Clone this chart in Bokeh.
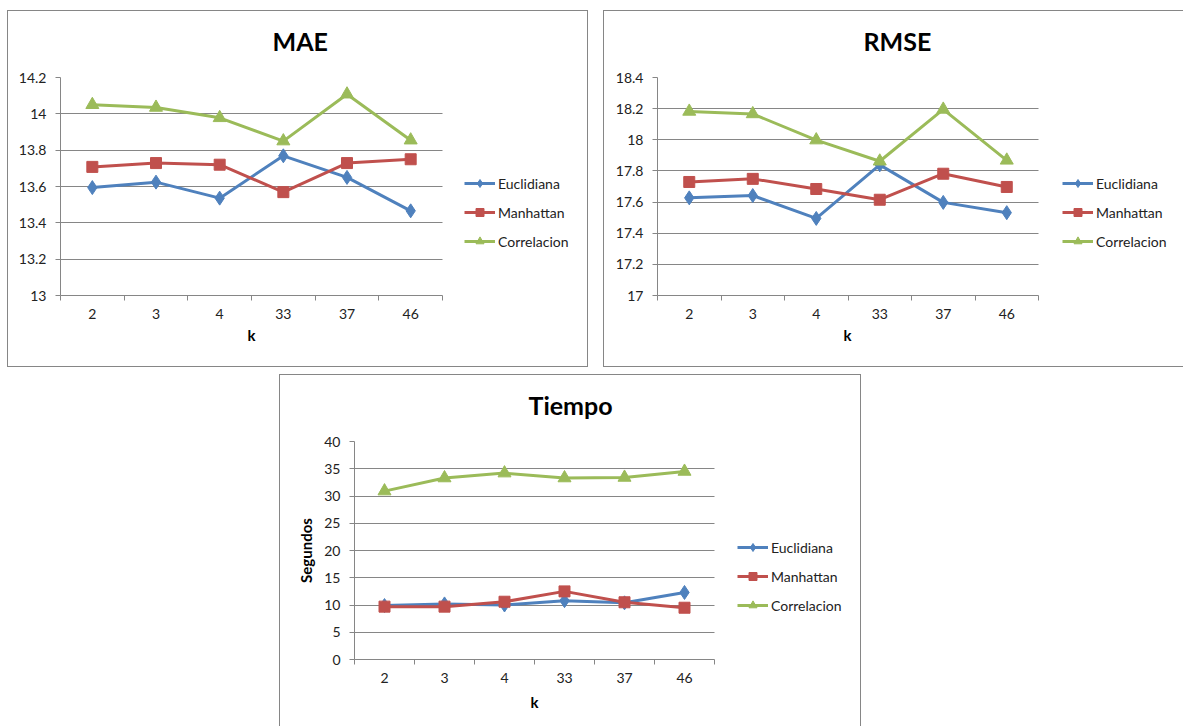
from bokeh.plotting import figure
from bokeh.models import (Range1d, FixedTicker, CustomJSTickFormatter, Legend,
                          LegendItem, Title, Spacer)
from bokeh.layouts import row, column
from bokeh.embed import file_html
from bokeh.resources import INLINE

# ---------------- data ----------------
k_values = ["2", "3", "4", "33", "37", "46"]
series_names = ["Euclidiana", "Manhattan", "Correlacion"]

mae_euclidiana = [13.594, 13.624, 13.536, 13.769, 13.650, 13.466]
mae_manhattan = [13.708, 13.729, 13.720, 13.569, 13.729, 13.750]
mae_correlacion = [14.050, 14.035, 13.978, 13.850, 14.108, 13.855]

rmse_euclidiana = [17.627, 17.642, 17.495, 17.839, 17.598, 17.532]
rmse_manhattan = [17.729, 17.749, 17.684, 17.615, 17.782, 17.697]
rmse_correlacion = [18.182, 18.166, 17.998, 17.862, 18.195, 17.868]

tiempo_euclidiana = [9.9, 10.2, 10.0, 10.8, 10.4, 12.3]
tiempo_manhattan = [9.7, 9.7, 10.6, 12.5, 10.5, 9.5]
tiempo_correlacion = [30.9, 33.3, 34.2, 33.3, 33.4, 34.5]

mae_ticks = [13.0, 13.2, 13.4, 13.6, 13.8, 14.0, 14.2]
rmse_ticks = [17.0, 17.2, 17.4, 17.6, 17.8, 18.0, 18.2, 18.4]
tiempo_ticks = [0, 5, 10, 15, 20, 25, 30, 35, 40]

# ---------------- style ----------------
FONT = "Lato"
COLORS = ["#4F81BD", "#C0504D", "#9BBB59"]
MARKERS = [("diamond", 14), ("square", 11), ("triangle", 13)]
GREY = "#868686"
TEXT = "#222222"


def make_chart(title_text, series, yticks, width, height, left, top, bottom,
               cat_px, title_left, k_left, k_standoff, legend_x, box_style, ylabel=None):
    right = 2
    n = len(k_values)
    x_end = 0.5 + (width - left - right) / cat_px
    p = figure(width=width, height=height, output_backend="svg", toolbar_location=None,
               x_range=Range1d(0.5, x_end),
               y_range=Range1d(yticks[0], yticks[-1]),
               min_border_left=left, min_border_right=right,
               min_border_top=top, min_border_bottom=bottom)
    p.outline_line_color = None
    p.background_fill_color = "white"
    p.border_fill_color = "white"
    p.styles = box_style

    # gap between frame and chart title, then the title itself
    p.add_layout(Title(text=" ", text_font_size="1px", standoff=19), "above")
    p.add_layout(Title(text=title_text, align="left", offset=title_left, standoff=0,
                       text_font=FONT, text_font_size="25px", text_font_style="bold",
                       text_color="black"), "above")

    xs = [i + 1 for i in range(n)]

    # x axis
    xax = p.xaxis[0]
    xax.bounds = (0.5, n + 0.5)
    xax.ticker = FixedTicker(ticks=xs, minor_ticks=[i + 0.5 for i in range(n + 1)])
    xax.major_label_overrides = {x: lab for x, lab in zip(xs, k_values)}
    xax.major_tick_line_color = None
    xax.major_tick_out = 0
    xax.major_tick_in = 0
    xax.minor_tick_line_color = GREY
    xax.minor_tick_out = 5
    xax.minor_tick_in = 0
    xax.axis_line_color = GREY
    xax.major_label_standoff = 8
    xax.major_label_text_font = FONT
    xax.major_label_text_font_size = "14px"
    xax.major_label_text_color = TEXT
    p.xgrid.visible = False
    # x-axis title "k", centred under the category area
    p.add_layout(Title(text="k", align="left", offset=k_left, standoff=k_standoff,
                       text_font=FONT, text_font_size="15px", text_font_style="bold",
                       text_color="black"), "below")

    # y axis
    yax = p.yaxis[0]
    yax.ticker = FixedTicker(ticks=yticks)
    yax.formatter = CustomJSTickFormatter(code="return String(Math.round(tick*10)/10);")
    yax.major_tick_line_color = GREY
    yax.major_tick_out = 5
    yax.major_tick_in = 0
    yax.minor_tick_line_color = None
    yax.axis_line_color = GREY
    yax.major_label_standoff = 9
    yax.major_label_text_font = FONT
    yax.major_label_text_font_size = "14px"
    yax.major_label_text_color = TEXT
    if ylabel:
        yax.axis_label = ylabel
        yax.axis_label_text_font = FONT
        yax.axis_label_text_font_size = "15px"
        yax.axis_label_text_font_style = "bold"
        yax.axis_label_text_color = "black"
        yax.axis_label_standoff = 6
    p.ygrid.ticker = FixedTicker(ticks=yticks)
    p.ygrid.cross_bounds = (0.5, n + 0.5)
    p.ygrid.grid_line_color = GREY
    p.ygrid.grid_line_width = 1

    items = []
    for name, ys, color, (mk, size) in zip(series_names, series, COLORS, MARKERS):
        ln = p.line(xs, ys, line_color=color, line_width=3)
        sc = p.scatter(xs, ys, marker=mk, size=size,
                       fill_color=color, line_color=color)
        items.append(LegendItem(label=name, renderers=[ln, sc]))

    legend = Legend(items=items, location=(legend_x, 44), orientation="vertical",
                    glyph_width=31, glyph_height=20, label_height=20,
                    label_standoff=3, spacing=9, padding=0, margin=0,
                    border_line_color=None, background_fill_alpha=0,
                    label_text_font=FONT, label_text_font_size="14px",
                    label_text_color=TEXT)
    p.add_layout(legend, "center")
    return p


border = "1px solid " + GREY
p1 = make_chart("MAE", [mae_euclidiana, mae_manhattan, mae_correlacion], mae_ticks,
                581, 357, 52, 66, 73, 63.67, 212, 187, 5, 404,
                {"border": border, "box-sizing": "border-box"})
p2 = make_chart("RMSE", [rmse_euclidiana, rmse_manhattan, rmse_correlacion], rmse_ticks,
                580, 357, 53, 66, 73, 63.5, 206, 186, 4, 405,
                {"border-left": border, "border-top": border, "border-bottom": border,
                 "box-sizing": "border-box"})
p3 = make_chart("Tiempo", [tiempo_euclidiana, tiempo_manhattan, tiempo_correlacion],
                tiempo_ticks, 582, 352, 74, 66, 68, 60.0, 174, 176, 10, 383,
                {"border-left": border, "border-top": border, "border-right": border,
                 "box-sizing": "border-box"},
                ylabel="Segundos")

layout = column(
    Spacer(height=10),
    row(Spacer(width=7), p1, Spacer(width=15), p2),
    Spacer(height=7),
    row(Spacer(width=279), p3),
)

open("out.html", "w").write(file_html(layout, INLINE))
